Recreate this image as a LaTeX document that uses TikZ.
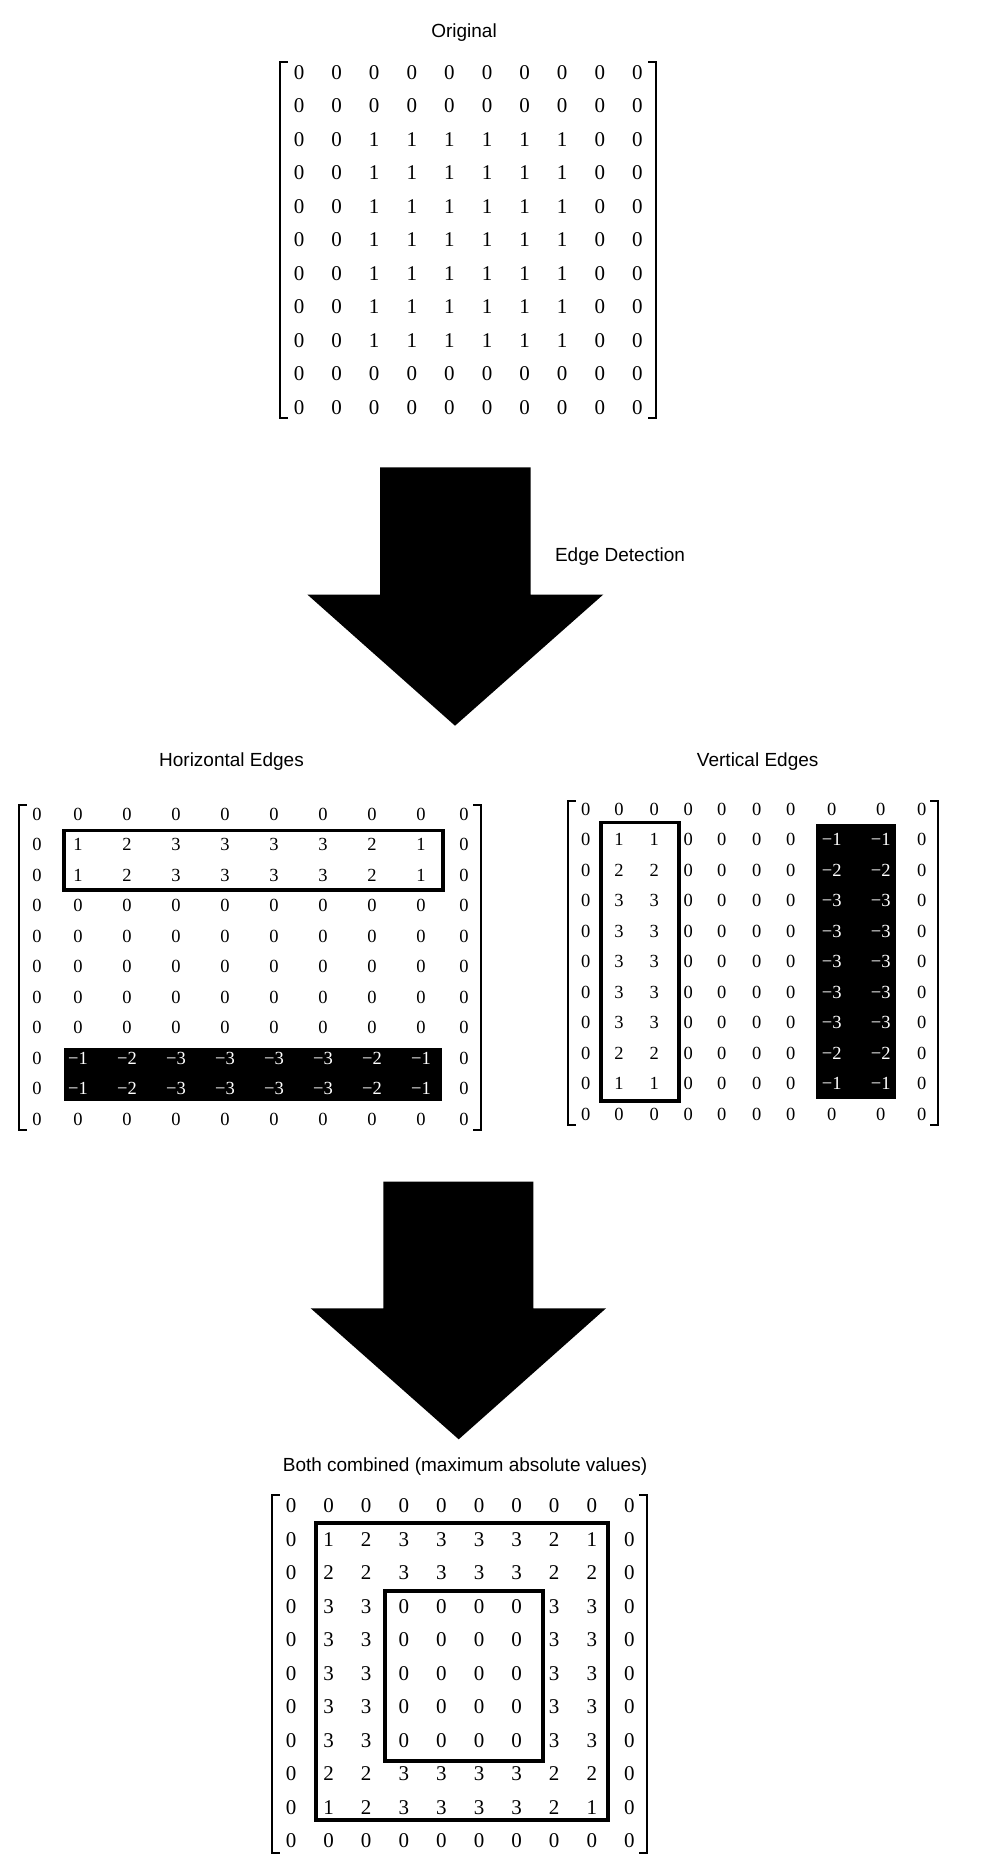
\documentclass[tikz,border=0pt]{standalone}
\usepackage{xcolor}
\usepackage{fontspec}
\setmainfont{Liberation Serif}
\newfontfamily\capfont{Liberation Sans}
\usepackage{tikz}

\newcommand\wneg[1]{\textcolor{white}{−#1}}
\tikzset{
  cell/.style={inner sep=0pt,anchor=center,font=\fontsize{21}{21}\selectfont},
  smallcell/.style={cell,font=\fontsize{18.5}{18.5}\selectfont},
  caption/.style={inner sep=0pt,anchor=base,font=\capfont\fontsize{19}{19}\selectfont},
  brack/.style={line width=2pt,line cap=rect},
  frame/.style={line width=3.6pt},
  blockarrow/.style={fill=black}
}

\begin{document}
\begin{tikzpicture}[x=1pt,y=-1pt]
        \fill[white] (0,0) rectangle (988,1868);
        \useasboundingbox (0,0) rectangle (988,1868);

        \node [caption] (origtitle) at (464,37.5) {Original};
        \foreach \row [count=\r from 0] in {
            {0,0,0,0,0,0,0,0,0,0},{0,0,0,0,0,0,0,0,0,0},
            {0,0,1,1,1,1,1,1,0,0},{0,0,1,1,1,1,1,1,0,0},{0,0,1,1,1,1,1,1,0,0},
            {0,0,1,1,1,1,1,1,0,0},{0,0,1,1,1,1,1,1,0,0},{0,0,1,1,1,1,1,1,0,0},
            {0,0,1,1,1,1,1,1,0,0},{0,0,0,0,0,0,0,0,0,0},{0,0,0,0,0,0,0,0,0,0}} {
          \foreach \v [count=\c from 0] in \row {
            \node [cell] (orig-\r-\c) at ({299+37.6*\c},{72.3+33.5*\r}) {\v};
          }
        }

        \fill[blockarrow] (380,467.3) -- (530.7,467.3) -- (530.7,594.5) -- (603.3,594.5)
            -- (455,725.7) -- (307.3,594.5) -- (380,594.5) -- cycle;
        \node [caption] (edgelabel) at (620,561) {Edge Detection};

        \node [caption] (htitle) at (231.5,766.7) {Horizontal Edges};
        \fill[black] (64,1048) rectangle (442,1101);
        \foreach \row [count=\r from 0] in {
            {0,0,0,0,0,0,0,0,0,0},
            {0,1,2,3,3,3,3,2,1,0},{0,1,2,3,3,3,3,2,1,0},
            {0,0,0,0,0,0,0,0,0,0},{0,0,0,0,0,0,0,0,0,0},{0,0,0,0,0,0,0,0,0,0},
            {0,0,0,0,0,0,0,0,0,0},{0,0,0,0,0,0,0,0,0,0},
            {0,\wneg1,\wneg2,\wneg3,\wneg3,\wneg3,\wneg3,\wneg2,\wneg1,0},
            {0,\wneg1,\wneg2,\wneg3,\wneg3,\wneg3,\wneg3,\wneg2,\wneg1,0},
            {0,0,0,0,0,0,0,0,0,0}} {
          \foreach \v [count=\c from 0] in \row {
            \pgfmathsetmacro\cx{{37,78,127,176,225,274,323,372,421,464}[\c]}
            \node [smallcell] (hor-\r-\c) at (\cx,{814.3+30.47*\r}) {\v};
          }
        }
        \draw[frame] (63.8,830.3) rectangle (443,890);

        \node [caption] (vtitle) at (757.7,766.7) {Vertical Edges};
        \fill[black] (816,824) rectangle (895.7,1099.3);
        \foreach \row [count=\r from 0] in {
            {0,0,0,0,0,0,0,0,0,0},
            {0,1,1,0,0,0,0,\wneg1,\wneg1,0},{0,2,2,0,0,0,0,\wneg2,\wneg2,0},
            {0,3,3,0,0,0,0,\wneg3,\wneg3,0},{0,3,3,0,0,0,0,\wneg3,\wneg3,0},
            {0,3,3,0,0,0,0,\wneg3,\wneg3,0},{0,3,3,0,0,0,0,\wneg3,\wneg3,0},
            {0,3,3,0,0,0,0,\wneg3,\wneg3,0},
            {0,2,2,0,0,0,0,\wneg2,\wneg2,0},{0,1,1,0,0,0,0,\wneg1,\wneg1,0},
            {0,0,0,0,0,0,0,0,0,0}} {
          \foreach \v [count=\c from 0] in \row {
            \pgfmathsetmacro\cx{{585.7,619,654.3,688.3,721.7,756.7,790.7,831.7,880.7,921.7}[\c]}
            \node [smallcell] (ver-\r-\c) at (\cx,{809.3+30.47*\r}) {\v};
          }
        }
        \draw[frame] (600.7,822.3) rectangle (679,1101);

        \fill[blockarrow] (383.3,1181.7) -- (533.3,1181.7) -- (533.3,1308.3) -- (606,1308.3)
            -- (458.7,1439.3) -- (310.7,1308.3) -- (383.3,1308.3) -- cycle;

        \node [caption] (combtitle) at (465,1471.7) {Both combined (maximum absolute values)};
        \foreach \row [count=\r from 0] in {
            {0,0,0,0,0,0,0,0,0,0},
            {0,1,2,3,3,3,3,2,1,0},{0,2,2,3,3,3,3,2,2,0},
            {0,3,3,0,0,0,0,3,3,0},{0,3,3,0,0,0,0,3,3,0},{0,3,3,0,0,0,0,3,3,0},
            {0,3,3,0,0,0,0,3,3,0},{0,3,3,0,0,0,0,3,3,0},
            {0,2,2,3,3,3,3,2,2,0},{0,1,2,3,3,3,3,2,1,0},
            {0,0,0,0,0,0,0,0,0,0}} {
          \foreach \v [count=\c from 0] in \row {
            \node [cell] (comb-\r-\c) at ({291+37.6*\c},{1505.7+33.53*\r}) {\v};
          }
        }
        \draw[frame,line width=4pt] (315.7,1523.3) rectangle (607.7,1820);
        \draw[frame,line width=4pt] (385.3,1590.7) rectangle (543.3,1761);

        \foreach \l/\r/\t/\b in {280/656/61.7/417.7, 19/481/805/1130,
            568.3/938.3/801/1125, 271.7/646.7/1495/1852.7} {
          \draw[brack] ({\l+7},\t) -- (\l,\t) -- (\l,\b) -- ({\l+7},\b);
          \draw[brack] ({\r-7},\t) -- (\r,\t) -- (\r,\b) -- ({\r-7},\b);
        }
\end{tikzpicture}
\end{document}
